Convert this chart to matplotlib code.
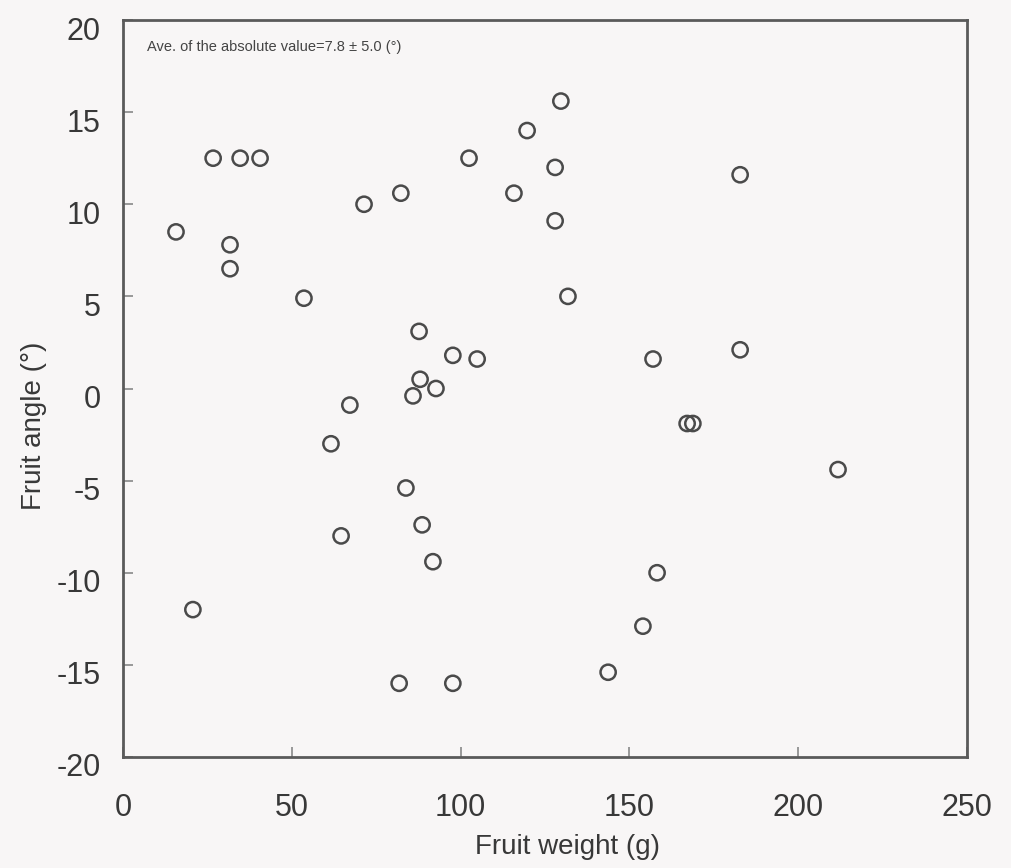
import matplotlib
matplotlib.use("Agg")
import matplotlib.pyplot as plt
import matplotlib.transforms as mtransforms

# fruit weight (g) and fruit angle (deg)
weight = [15.7, 26.7, 34.7, 40.6, 31.7, 31.7, 20.7, 53.6, 71.4, 82.3,
          67.2, 61.6, 64.6, 87.7, 88.0, 85.9, 92.7, 97.7, 104.9, 83.8,
          88.6, 91.8, 81.8, 97.7, 102.5, 119.7, 129.7, 115.8, 128.0, 128.0,
          131.8, 143.7, 154.0, 158.2, 157.0, 167.1, 168.8, 182.8, 182.8, 211.8]
angle = [8.5, 12.5, 12.5, 12.5, 7.8, 6.5, -12.0, 4.9, 10.0, 10.6,
         -0.9, -3.0, -8.0, 3.1, 0.5, -0.4, 0.0, 1.8, 1.6, -5.4,
         -7.4, -9.4, -16.0, -16.0, 12.5, 14.0, 15.6, 10.6, 12.0, 9.1,
         5.0, -15.4, -12.9, -10.0, 1.6, -1.9, -1.9, 11.6, 2.1, -4.4]

xticks = [0, 50, 100, 150, 200, 250]
yticks = [-20, -15, -10, -5, 0, 5, 10, 15, 20]

plt.rcParams['font.family'] = ['Liberation Sans', 'DejaVu Sans']
plt.rcParams['axes.unicode_minus'] = False
bg = '#f8f6f6'
ink = '#4a4a4a'

fig = plt.figure(figsize=(10.12, 8.68), dpi=100, facecolor=bg)
ax = fig.add_axes([123 / 1012, 1 - 757 / 868, 844 / 1012, 737 / 868])
ax.set_facecolor(bg)

ax.scatter(weight, angle, s=120, facecolors='none', edgecolors=ink, linewidths=1.8, zorder=3)

ax.set_xlim(0, 250)
ax.set_ylim(-20, 20)
ax.set_xticks(xticks)
ax.set_yticks(yticks)

for sp in ax.spines.values():
    sp.set_color('#5a5a5a')
    sp.set_linewidth(2.0)

ax.tick_params(axis='both', direction='in', length=7, width=1.2, colors='#888888',
               labelcolor='#383838', labelsize=22)
ax.tick_params(axis='x', pad=26)
ax.tick_params(axis='y', pad=16)

# the scanned y labels sit a little lower than their ticks
off = mtransforms.ScaledTranslation(0, -8 / 100, fig.dpi_scale_trans)
for lab in ax.get_yticklabels():
    lab.set_transform(lab.get_transform() + off)

ax.set_xlabel('Fruit weight (g)', fontsize=20, color='#383838')
ax.set_ylabel('Fruit angle (°)', fontsize=20, color='#383838')
ax.xaxis.set_label_coords(0.527, -0.105)
ax.yaxis.set_label_coords(-0.09, 0.45)

ax.text(0.028, 0.963, 'Ave. of the absolute value=7.8 ± 5.0 (°)', transform=ax.transAxes,
        fontsize=10.5, color='#444444', ha='left', va='center')

fig.savefig('out.png', dpi=100, facecolor=bg)
